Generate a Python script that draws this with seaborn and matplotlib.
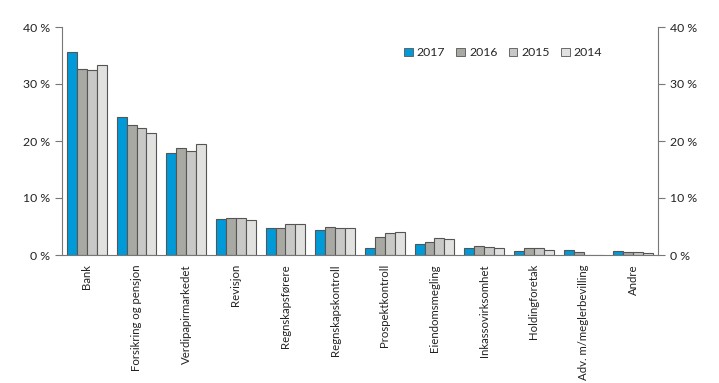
import matplotlib
matplotlib.use("Agg")
import matplotlib.pyplot as plt
import matplotlib.ticker as mticker
import pandas as pd
import seaborn as sns

# Data (share in %)
categories = ["Bank", "Forsikring og pensjon", "Verdipapirmarkedet", "Revisjon",
              "Regnskapsførere", "Regnskapskontroll", "Prospektkontroll",
              "Eiendomsmegling", "Inkassovirksomhet", "Holdingforetak",
              "Adv. m/meglerbevilling", "Andre"]
years = ["2017", "2016", "2015", "2014"]
v2017 = [35.6, 24.2, 17.9, 6.3, 4.8, 4.4, 1.2, 1.9, 1.2, 0.7, 0.8, 0.65]
v2016 = [32.6, 22.8, 18.8, 6.5, 4.8, 4.9, 3.2, 2.2, 1.6, 1.3, 0.5, 0.6]
v2015 = [32.5, 22.3, 18.2, 6.5, 5.5, 4.8, 3.8, 2.9, 1.4, 1.2, 0.0, 0.5]
v2014 = [33.3, 21.4, 19.5, 6.1, 5.5, 4.8, 4.1, 2.75, 1.2, 0.8, 0.0, 0.3]
colors = ["#009ad8", "#a9a9a4", "#c8c8c6", "#e1e1e0"]

rows = []
for year, vals in zip(years, [v2017, v2016, v2015, v2014]):
    for cat, v in zip(categories, vals):
        rows.append({"kategori": cat, "år": year, "andel": v})
df = pd.DataFrame(rows)

sns.set_style("white")
plt.rcParams["font.family"] = ["Lato", "DejaVu Sans"]
plt.rcParams["font.size"] = 8.5

fig = plt.figure(figsize=(7.19, 3.83), dpi=100)
ax = fig.add_axes([62 / 719, 1 - 255 / 383, 596 / 719, 228 / 383])

sns.barplot(data=df, x="kategori", y="andel", hue="år", hue_order=years,
            palette=colors, width=0.8, edgecolor="#555555", linewidth=0.8,
            saturation=1, ax=ax)

ax.set_ylim(0, 40)
ax.set_xlim(-0.5, len(categories) - 0.5)
ax.yaxis.set_major_locator(mticker.MultipleLocator(10))
ax.yaxis.set_major_formatter(mticker.FuncFormatter(lambda v, p: f"{int(v)} %"))
ax.set_xlabel("")
ax.set_ylabel("")

for side in ["left", "right", "bottom"]:
    ax.spines[side].set_color("#777777")
    ax.spines[side].set_linewidth(0.8)
ax.spines["top"].set_visible(False)

ax.tick_params(axis="y", left=True, right=True, labelleft=True, labelright=True,
               direction="out", length=5, width=0.8, color="#777777",
               labelsize=8.8, colors="#222222")
ax.tick_params(axis="x", bottom=False, labelsize=8.2, colors="#222222", pad=3)
plt.setp(ax.get_xticklabels(), rotation=90, ha="center", va="top")

leg = ax.legend(loc="upper right", bbox_to_anchor=(0.925, 0.96), ncol=4,
                frameon=False, fontsize=8.8, handlelength=0.7, handleheight=0.7,
                handletextpad=0.35, columnspacing=0.9)
for h in leg.legend_handles:
    h.set_edgecolor("#555555")
    h.set_linewidth(0.6)

fig.savefig("out.png", dpi=100)
